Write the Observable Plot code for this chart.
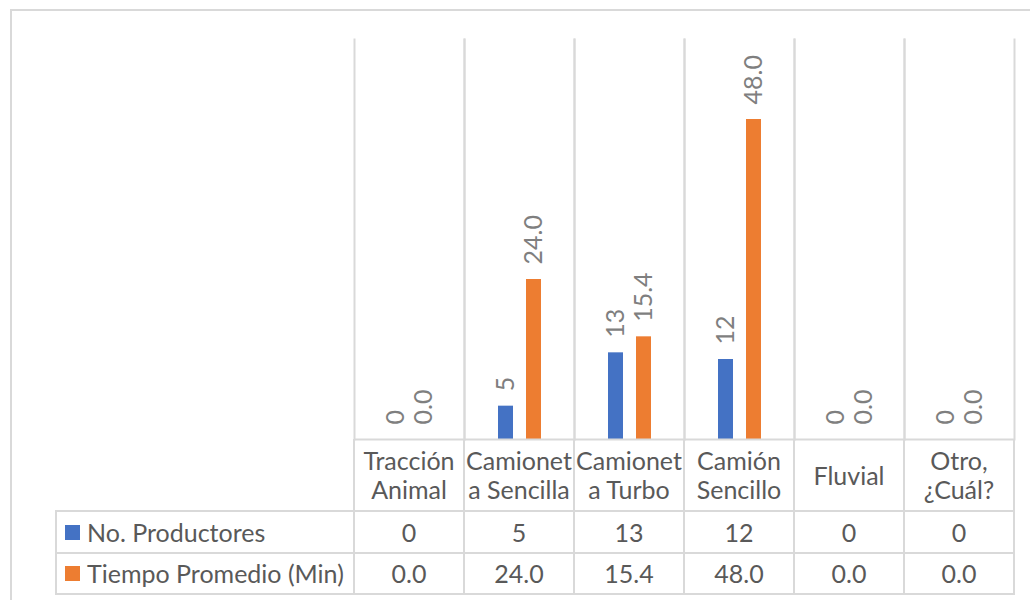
<!DOCTYPE html>
<html><head><meta charset="utf-8">
<script src="https://cdn.jsdelivr.net/npm/d3@7"></script>
<script src="https://cdn.jsdelivr.net/npm/@observablehq/plot@0.6"></script>
<style>
body{margin:0;background:#fff;font-family:Lato,"Open Sans",sans-serif;}
#wrap{position:relative;width:1030px;height:600px;overflow:hidden;background:#fff;}
#outer{position:absolute;left:10px;top:9px;width:1100px;height:700px;border-left:2px solid #d9d9d9;border-top:2px solid #d9d9d9;}
#chart{position:absolute;left:0;top:0;}
.ln{position:absolute;background:#d9d9d9;}
.cell{position:absolute;display:flex;align-items:center;justify-content:center;text-align:center;white-space:pre-line;line-height:29px;color:#595959;font-size:25px;}
.cell.leg{justify-content:flex-start;white-space:nowrap;}
.sw{display:inline-block;width:15px;height:15px;margin:0 7px 0 8px;}
</style></head>
<body>
<div id="wrap"><div id="outer"></div><div id="chart"></div><div id="table"></div></div>
<script>
const categories = ["Tracción Animal", "Camioneta Sencilla", "Camioneta Turbo", "Camión Sencillo", "Fluvial", "Otro, ¿Cuál?"];
const categoryLabels = ["Tracción\nAnimal", "Camionet\na Sencilla", "Camionet\na Turbo", "Camión\nSencillo", "Fluvial", "Otro,\n¿Cuál?"];
const seriesNames = ["No. Productores", "Tiempo Promedio (Min)"];
const productores = [0, 5, 13, 12, 0, 0];
const tiempo = [0.0, 24.0, 15.4, 48.0, 0.0, 0.0];
const seriesColors = ["#4472C4", "#ED7D31"];
const yDomain = [0, 60];

const fmt = [v => String(v), v => v.toFixed(1)];
const seriesValues = [productores, tiempo];

const data = categories.flatMap((c, i) => seriesNames.map((s, j) => ({
  cat: c, series: s, value: seriesValues[j][i], label: fmt[j](seriesValues[j][i])
})));

const grid = "#d9d9d9";
const W = 1030, H = 441, ML = 352, MR = 14, MT = 39, MB = 2;
const chart = Plot.plot({
  width: W, height: H,
  marginLeft: ML, marginRight: MR, marginTop: MT, marginBottom: MB,
  style: {fontFamily: "Lato, 'Open Sans', sans-serif", background: "transparent", overflow: "visible"},
  fx: {domain: categories, padding: 0, axis: null},
  x: {domain: seriesNames, paddingInner: 0.466, paddingOuter: 1.14, axis: null},
  y: {domain: yDomain, axis: null},
  color: {domain: seriesNames, range: seriesColors},
  marks: [
    Plot.frame({anchor: "left", stroke: grid, strokeWidth: 2}),
    Plot.frame({anchor: "right", stroke: grid, strokeWidth: 2}),
    Plot.barY(data, {fx: "cat", x: "series", y: "value", fill: "series"}),
    Plot.ruleY([0], {stroke: grid, strokeWidth: 2}),
    Plot.text(data, {fx: "cat", x: "series", y: "value", text: "label", rotate: -90,
      textAnchor: "start", lineAnchor: "middle", dy: -15, fill: "#7f7f7f", fontSize: 25})
  ]
});
document.getElementById("chart").appendChild(chart);

// ---- data table below the plot, aligned with the fx scale ----
const T = document.getElementById("table");
let fxs = null;
try { fxs = chart.scale("fx"); } catch (e) {}
const bw = fxs && fxs.bandwidth ? fxs.bandwidth : (W - ML - MR) / categories.length;
const xStart = c => fxs && fxs.apply ? fxs.apply(c) : ML + categories.indexOf(c) * bw;
const xs = categories.map(xStart);
const xEnd = xs[xs.length - 1] + bw;

const yBase = H - MB;           // baseline of the plot
const rowTops = [yBase, 511, 553, 594];
const legLeft = 56;

function line(x, y, w, h) {
  const d = document.createElement("div"); d.className = "ln";
  Object.assign(d.style, {left: x + "px", top: y + "px", width: w + "px", height: h + "px"});
  T.appendChild(d);
}
function cell(x, y, w, h, text, cls) {
  const d = document.createElement("div"); d.className = "cell" + (cls ? " " + cls : "");
  Object.assign(d.style, {left: x + "px", top: y + "px", width: w + "px", height: h + "px"});
  if (text !== undefined) d.textContent = text;
  T.appendChild(d); return d;
}
// vertical lines
[...xs, xEnd].forEach(x => line(x - 1, yBase, 2, rowTops[3] - yBase + 1));
line(legLeft - 1, rowTops[1] - 1, 2, rowTops[3] - rowTops[1] + 2);
// horizontal lines
[rowTops[1], rowTops[2], rowTops[3]].forEach(y => line(legLeft - 1, y - 1, xEnd - legLeft + 2, 2));
// header
categoryLabels.forEach((l, i) => cell(xs[i], yBase + 1, bw, rowTops[1] - yBase - 2, l));
// rows
seriesNames.forEach((s, j) => {
  const top = rowTops[j + 1] + 1, h = rowTops[j + 2] - rowTops[j + 1] - 2;
  const lc = cell(legLeft + 1, top, ML - legLeft - 2, h, undefined, "leg");
  const sw = document.createElement("span"); sw.className = "sw"; sw.style.background = seriesColors[j];
  lc.appendChild(sw); lc.appendChild(document.createTextNode(s));
  seriesValues[j].forEach((v, i) => cell(xs[i], top, bw, h, fmt[j](v)));
});
</script>
</body></html>
